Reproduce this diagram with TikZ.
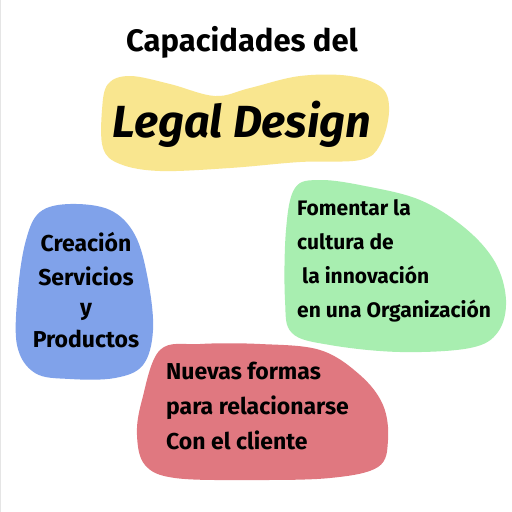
\documentclass[tikz,border=0pt]{standalone}
\usepackage{fontspec}
\setmainfont{Fira Sans}
\definecolor{blobyellow}{RGB}{249,230,143}
\definecolor{blobblue}{RGB}{128,162,234}
\definecolor{blobgreen}{RGB}{168,238,176}
\definecolor{blobred}{RGB}{224,120,128}
\tikzset{
  txt/.style={text=black, inner sep=0pt, anchor=center},
}
\begin{document}
\begin{tikzpicture}[x=1pt,y=-1pt]
\useasboundingbox[fill=white] (0,0) rectangle (512,512);
\draw[black!10, line width=1pt] (0.5,0) -- (0.5,512);
% yellow blob
\fill[blobyellow] plot[smooth cycle, tension=0.6] coordinates {
 (108,84) (130,76) (170,84) (215,96) (250,88) (300,76) (350,76) (382,88)
 (389,112) (380,145) (360,160) (300,162) (230,168) (160,171) (120,164)
 (103,148) (102,110)};
% blue blob
\fill[blobblue] plot[smooth cycle, tension=0.6] coordinates {
 (40,212) (70,204) (110,210) (135,235) (148,280) (153,330) (143,365)
 (115,378) (70,379) (35,373) (17,345) (18,290) (26,240)};
% green blob
\fill[blobgreen] plot[smooth cycle, tension=0.6] coordinates {
 (295,188) (320,180) (365,186) (420,200) (465,228) (495,262) (506,300)
 (498,332) (470,348) (400,352) (330,345) (292,333) (285,300) (286,230)};
% red blob
\fill[blobred] plot[smooth cycle, tension=0.6] coordinates {
 (160,350) (200,344) (260,344) (320,350) (360,375) (383,405) (388,440)
 (378,467) (330,478) (250,480) (175,478) (145,465) (137,435) (142,400)};
% texts
\node[txt, font=\fontsize{31}{31}\selectfont\bfseries] (title) at (242,42) {Capacidades del};
\node[txt, font=\fontsize{45}{45}\selectfont\bfseries\itshape] (legal) at (242,124) {Legal Design};
\node[txt, font=\fontsize{23}{23}\selectfont\bfseries, align=center] (blue) at (86,290)
 {Creación\\[11pt]Servicios\\[7pt]y\\[9pt]Productos};
\node[txt, font=\fontsize{21}{34}\selectfont\bfseries, align=left, anchor=north west] (green) at (297,199)
 {Fomentar la\\cultura de\\\ la innovación\\en una Organización};
\node[txt, font=\fontsize{23}{35}\selectfont\bfseries, align=left, anchor=north west] (red) at (166,362)
 {Nuevas formas\\para relacionarse\\Con el cliente};
\end{tikzpicture}
\end{document}
